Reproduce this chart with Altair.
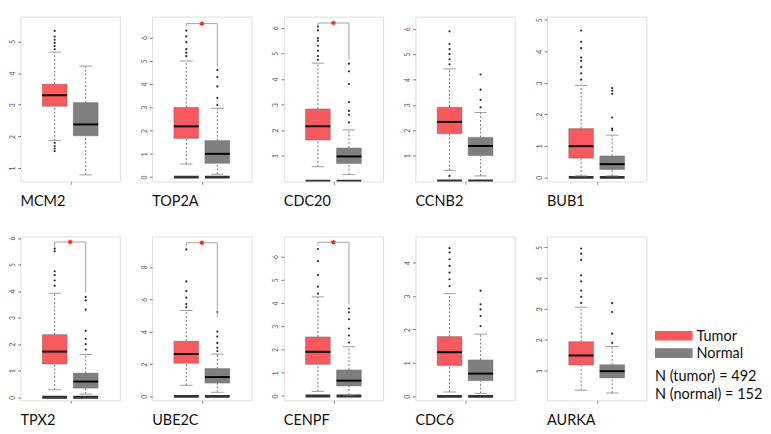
import altair as alt
import pandas as pd

genes = ["MCM2", "TOP2A", "CDC20", "CCNB2", "BUB1", "TPX2", "UBE2C", "CENPF", "CDC6", "AURKA"]

# Tumor box statistics (lower whisker, Q1, median, Q3, upper whisker)
t_lo  = [1.87, 0.56, 0.57, 0.42, 0.05, 0.28, 0.68, 0.20, 0.13, 0.36]
t_q1  = [2.95, 1.66, 1.61, 1.86, 0.61, 1.25, 2.04, 1.36, 0.92, 1.18]
t_med = [3.30, 2.18, 2.15, 2.33, 0.99, 1.72, 2.62, 1.90, 1.32, 1.49]
t_q3  = [3.65, 3.00, 2.83, 2.91, 1.55, 2.36, 3.41, 2.54, 1.79, 1.94]
t_hi  = [4.66, 4.99, 4.62, 4.42, 2.92, 3.92, 5.31, 4.26, 3.07, 3.06]

# Normal box statistics
n_lo  = [0.79, 0.12, 0.26, 0.20, 0.05, 0.12, 0.25, 0.05, 0.09, 0.27]
n_q1  = [2.02, 0.59, 0.69, 1.00, 0.25, 0.34, 0.82, 0.43, 0.47, 0.76]
n_med = [2.38, 1.00, 0.97, 1.38, 0.42, 0.59, 1.19, 0.66, 0.68, 0.98]
n_q3  = [3.07, 1.57, 1.30, 1.72, 0.68, 0.91, 1.72, 1.12, 1.09, 1.19]
n_hi  = [4.22, 2.96, 2.01, 2.70, 1.34, 1.61, 2.61, 2.12, 1.86, 1.78]

# Visible points beyond the whiskers
t_out = [
    [4.75, 4.85, 4.95, 5.05, 5.15, 5.33, 1.80, 1.70, 1.62, 1.54],
    [5.20, 5.35, 5.50, 5.80, 6.05, 6.30],
    [4.75, 4.90, 5.10, 5.30, 5.50, 5.60, 5.90, 6.05],
    [4.60, 4.80, 5.00, 5.20, 5.40, 5.90, 0.20],
    [3.10, 3.30, 3.50, 3.70, 3.80, 4.10, 4.30, 4.66],
    [4.20, 4.40, 4.60, 4.75, 5.50, 5.60],
    [5.50, 5.70, 6.10, 6.50, 7.10, 9.08],
    [4.40, 4.70, 5.20, 5.80, 6.32],
    [3.30, 3.50, 3.70, 3.90, 4.10, 4.30, 4.43],
    [3.20, 3.40, 3.60, 3.90, 4.10, 4.60, 4.80, 4.97],
]
n_out = [
    [],
    [3.10, 3.40, 3.90, 4.30, 4.60],
    [2.30, 2.60, 2.75, 3.10, 3.80, 4.30, 4.60],
    [2.90, 3.20, 3.60, 4.20],
    [1.50, 1.55, 1.90, 2.65, 2.75, 2.83],
    [1.80, 2.00, 2.20, 2.50, 3.30, 3.65, 3.78],
    [2.80, 3.00, 3.30, 3.70, 4.00, 5.21],
    [2.30, 2.60, 2.90, 3.30, 3.60, 3.76],
    [2.10, 2.40, 2.60, 2.75, 3.16],
    [1.90, 2.20, 2.90, 3.19],
]

# Significance bracket: asterisk level, left drop end, right drop end
sig_star  = [None, 6.60, 6.19, None, None, 5.85, 9.49, 6.61, None, None]
sig_left  = [None, 6.50, 6.10, None, None, 5.65, 9.25, 6.50, None, None]
sig_right = [None, 4.76, 4.77, None, None, 3.94, 4.90, 3.93, None, None]

# Thick bar of zero values
zero_bar = [False, True, True, True, True, True, True, True, True, False]

# Axes
y_domain = [[0.58, 5.78], [-0.19, 6.90], [-0.01, 6.44], [-0.02, 6.48], [-0.13, 5.10],
            [-0.12, 6.06], [-0.25, 9.88], [-0.19, 6.86], [-0.12, 4.78], [0.03, 5.36]]
y_ticks = [[1, 2, 3, 4, 5], [0, 1, 2, 3, 4, 5, 6], [1, 2, 3, 4, 5, 6], [1, 2, 3, 4, 5, 6],
           [0, 1, 2, 3, 4, 5], [0, 1, 2, 3, 4, 5, 6], [0, 2, 4, 6, 8], [0, 1, 2, 3, 4, 5, 6],
           [0, 1, 2, 3, 4], [1, 2, 3, 4, 5]]

groups = ["Tumor", "Normal"]
group_colors = ["#F65A5E", "#7F7F7F"]
legend_n = ["N (tumor) = 492", "N (normal) = 152"]

FONT = "Lato"
W, H1, H2 = 103, 171, 170

color_scale = alt.Scale(domain=groups, range=group_colors)


def xenc(field):
    return alt.X(f"{field}:Q",
                 scale=alt.Scale(domain=[-0.1, 3.1], nice=False, zero=False),
                 axis=alt.Axis(values=[1.5], labels=False, tickSize=3, tickColor="#888",
                               domain=False, grid=False, title=None))


def yenc(field, i):
    return alt.Y(f"{field}:Q",
                 scale=alt.Scale(domain=y_domain[i], nice=False, zero=False),
                 axis=alt.Axis(values=y_ticks[i], labelAngle=270, labelFontSize=7,
                               labelColor="#555", tickColor="#777", tickSize=3,
                               labelPadding=2, domain=False, grid=False, title=None,
                               minExtent=12, maxExtent=12, labelFont=FONT))


def panel(i, h, with_legend=False):
    box = pd.DataFrame({
        "group": groups,
        "pos": [1, 2],
        "lo": [t_lo[i], n_lo[i]],
        "q1": [t_q1[i], n_q1[i]],
        "med": [t_med[i], n_med[i]],
        "q3": [t_q3[i], n_q3[i]],
        "hi": [t_hi[i], n_hi[i]],
    })
    base = alt.Chart(box).transform_calculate(
        left="datum.pos - 0.4", right="datum.pos + 0.4",
        capl="datum.pos - 0.2", capr="datum.pos + 0.2", zero="0")

    layers = []
    if zero_bar[i]:
        layers.append(base.mark_rule(color="#333333", strokeWidth=3, clip=True).encode(
            x=xenc("left"), x2="right:Q", y=yenc("zero", i)))
    layers.append(base.mark_rule(color="#333333", strokeWidth=0.7, strokeDash=[2, 2]).encode(
        x=xenc("pos"), y=yenc("lo", i), y2="q1:Q"))
    layers.append(base.mark_rule(color="#333333", strokeWidth=0.7, strokeDash=[2, 2]).encode(
        x=xenc("pos"), y=yenc("q3", i), y2="hi:Q"))
    layers.append(base.mark_rect(strokeWidth=0.8, stroke="#666666", strokeOpacity=0.5).encode(
        x=xenc("left"), x2="right:Q", y=yenc("q1", i), y2="q3:Q",
        color=alt.Color("group:N", scale=color_scale, legend=None)))
    layers.append(base.mark_rule(color="#000000", strokeWidth=2).encode(
        x=xenc("left"), x2="right:Q", y=yenc("med", i)))
    layers.append(base.mark_rule(color="#9a9a9a", strokeWidth=1).encode(
        x=xenc("capl"), x2="capr:Q", y=yenc("hi", i)))
    layers.append(base.mark_rule(color="#9a9a9a", strokeWidth=1).encode(
        x=xenc("capl"), x2="capr:Q", y=yenc("lo", i)))

    out = pd.DataFrame({
        "pos": [1] * len(t_out[i]) + [2] * len(n_out[i]),
        "v": t_out[i] + n_out[i],
    })
    layers.append(alt.Chart(out).mark_circle(size=5, color="#111111", opacity=0.9).encode(
        x=xenc("pos"), y=yenc("v", i)))

    if sig_star[i] is not None:
        br = pd.DataFrame({"a": [1], "b": [2], "m": [1.5], "s": [sig_star[i]],
                           "l": [sig_left[i]], "r": [sig_right[i]]})
        bc = alt.Chart(br)
        layers.append(bc.mark_rule(color="#a0a0a0", strokeWidth=1).encode(
            x=xenc("a"), x2="b:Q", y=yenc("s", i)))
        layers.append(bc.mark_rule(color="#a0a0a0", strokeWidth=1).encode(
            x=xenc("a"), y=yenc("s", i), y2="l:Q"))
        layers.append(bc.mark_rule(color="#a0a0a0", strokeWidth=1).encode(
            x=xenc("b"), y=yenc("s", i), y2="r:Q"))
        layers.append(bc.mark_point(
            shape="M0,-1L0,1M-0.87,-0.5L0.87,0.5M-0.87,0.5L0.87,-0.5",
            filled=False, color="#FF2020", size=22, strokeWidth=1.4, opacity=1).encode(
            x=xenc("m"), y=yenc("s", i)))

    if with_legend:
        leg = pd.DataFrame({"group": groups, "n": legend_n})
        lc = alt.Chart(leg)
        for k in range(2):
            lk = lc.transform_filter(alt.datum.group == groups[k])
            layers.append(lk.mark_rect().encode(
                x=alt.value(112), x2=alt.value(151),
                y=alt.value(98 + 18 * k), y2=alt.value(108 + 18 * k),
                color=alt.Color("group:N", scale=color_scale, legend=None)))
            layers.append(lk.mark_text(align="left", baseline="middle", font=FONT,
                                       fontSize=15, color="#111111").encode(
                x=alt.value(155), y=alt.value(103 + 18 * k), text="group:N"))
            layers.append(lk.mark_text(align="left", baseline="middle", font=FONT,
                                       fontSize=15, color="#111111").encode(
                x=alt.value(112), y=alt.value(145 + 19 * k), text="n:N"))

    return alt.layer(*layers).properties(
        width=W, height=h,
        title=alt.TitleParams(genes[i], orient="bottom", anchor="start", frame="group",
                              fontSize=15, font=FONT, fontWeight="normal",
                              color="#111111", offset=10))


row1 = alt.hconcat(*[panel(i, H1) for i in range(5)], spacing=19.5)
row2 = alt.hconcat(*[panel(i, H2, with_legend=(i == 9)) for i in range(5, 10)], spacing=19.5)

chart = alt.vconcat(row1, row2, spacing=27).properties(
    padding={"left": 0, "top": 0, "right": 0, "bottom": 0}
).configure_view(stroke="#c8c8c8", strokeWidth=1.5).configure(background="white")

chart.save("out.html", embed_options={"renderer": "svg", "actions": False})
